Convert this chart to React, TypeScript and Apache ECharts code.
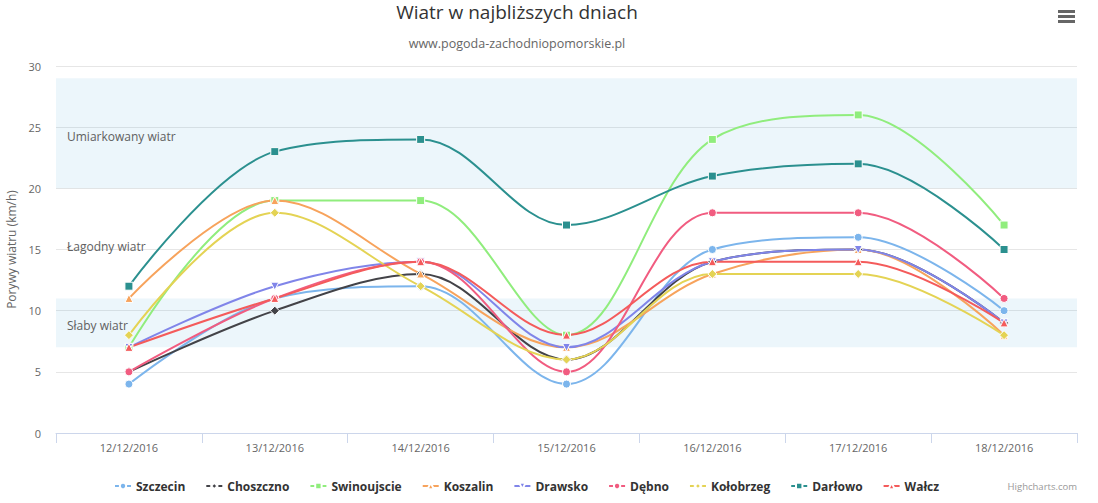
import React, { useEffect, useRef } from "react";
import * as echarts from "echarts";

const categories = ["12/12/2016", "13/12/2016", "14/12/2016", "15/12/2016", "16/12/2016", "17/12/2016", "18/12/2016"];

const szczecin = [4, 11, 12, 4, 15, 16, 10];
const choszczno = [5, 10, 13, 6, 14, 15, 9];
const swinoujscie = [7, 19, 19, 8, 24, 26, 17];
const koszalin = [11, 19, 13, 7, 13, 15, 8];
const drawsko = [7, 12, 14, 7, 14, 15, 9];
const debno = [5, 11, 14, 5, 18, 18, 11];
const kolobrzeg = [8, 18, 12, 6, 13, 13, 8];
const darlowo = [12, 23, 24, 17, 21, 22, 15];
const walcz = [7, 11, 14, 8, 14, 14, 9];

const bands = [
  { from: 7, to: 11, label: "Słaby wiatr", filled: true },
  { from: 11, to: 20, label: "Łagodny wiatr", filled: false },
  { from: 20, to: 29, label: "Umiarkowany wiatr", filled: true },
];

const titleText = "Wiatr w najbliższych dniach";
const subtitleText = "www.pogoda-zachodniopomorskie.pl";
const creditsText = "Highcharts.com";

const seriesDefs = [
  { name: "Szczecin", data: szczecin, color: "#7cb5ec", symbol: "circle", rotate: 0 },
  { name: "Choszczno", data: choszczno, color: "#434348", symbol: "diamond", rotate: 0 },
  { name: "Swinoujscie", data: swinoujscie, color: "#90ed7d", symbol: "rect", rotate: 0 },
  { name: "Koszalin", data: koszalin, color: "#f7a35c", symbol: "triangle", rotate: 0 },
  { name: "Drawsko", data: drawsko, color: "#8085e9", symbol: "triangle", rotate: 180 },
  { name: "Dębno", data: debno, color: "#f15c80", symbol: "circle", rotate: 0 },
  { name: "Kołobrzeg", data: kolobrzeg, color: "#e4d354", symbol: "diamond", rotate: 0 },
  { name: "Darłowo", data: darlowo, color: "#2b908f", symbol: "rect", rotate: 0 },
  { name: "Wałcz", data: walcz, color: "#f45b5b", symbol: "triangle", rotate: 0 },
];

const FONT = "'Open Sans', 'DejaVu Sans', sans-serif";

export default function App() {
  const ref = useRef<HTMLDivElement>(null);
  useEffect(() => {
    const chart = echarts.init(ref.current!, null, { renderer: "svg" });
    const series: any[] = seriesDefs.map((s, i) => ({
      type: "line",
      name: s.name,
      data: s.data,
      smooth: 0.35,
      symbol: s.symbol,
      symbolRotate: s.rotate,
      symbolSize: s.symbol === "diamond" ? 9 : 8,
      showAllSymbol: true,
      lineStyle: { width: 2, color: s.color },
      itemStyle: { color: s.color, borderColor: "#ffffff", borderWidth: 1 },
      z: 3,
      ...(i === 0
        ? {
            markArea: {
              silent: true,
              z: 0,
              data: bands.map((b) => [
                {
                  yAxis: b.from,
                  name: b.label,
                  itemStyle: { color: b.filled ? "rgba(68,170,213,0.1)" : "rgba(0,0,0,0)" },
                },
                { yAxis: b.to },
              ]),
              label: {
                show: true,
                position: "insideLeft",
                distance: 11,
                color: "#606060",
                fontSize: 12,
                fontFamily: FONT,
                offset: [0, 3],
              },
            },
          }
        : {}),
    }));

    chart.setOption({
      animation: false,
      backgroundColor: "#ffffff",
      legend: {
        bottom: 6,
        left: 109,
        itemWidth: 16,
        itemHeight: 8,
        itemGap: 20,
        textStyle: { fontSize: 12, fontWeight: "bold", color: "#333333", fontFamily: FONT },
        data: seriesDefs.map((s) => s.name),
      },
      grid: { left: 56, right: 21, top: 66, bottom: 70, outerBoundsMode: "none", containLabel: false },
      xAxis: {
        type: "category",
        data: categories,
        boundaryGap: true,
        axisLine: { lineStyle: { color: "#ccd6eb", width: 1 } },
        axisTick: { show: true, length: 10, lineStyle: { color: "#ccd6eb" } },
        axisLabel: { color: "#666666", fontSize: 11, fontFamily: FONT, margin: 9 },
      },
      yAxis: {
        type: "value",
        min: 0,
        max: 30,
        interval: 5,
        name: "Porywy wiatru (km/h)",
        nameLocation: "middle",
        nameGap: 38,
        nameTextStyle: { color: "#666666", fontSize: 12, fontFamily: FONT },
        axisLine: { show: false },
        axisTick: { show: false },
        axisLabel: { color: "#666666", fontSize: 11, fontFamily: FONT, margin: 15 },
        splitLine: { lineStyle: { color: "#e6e6e6", width: 1 } },
      },
      graphic: [
        {
          type: "text",
          x: 517,
          y: 12,
          style: {
            text: titleText,
            fill: "#333333",
            font: `19px ${FONT}`,
            textAlign: "center",
            textVerticalAlign: "middle",
          },
        },
        {
          type: "text",
          x: 517,
          y: 43,
          style: {
            text: subtitleText,
            fill: "#666666",
            font: `12.5px ${FONT}`,
            textAlign: "center",
            textVerticalAlign: "middle",
          },
        },
        {
          type: "text",
          x: 1077,
          y: 486,
          style: {
            text: creditsText,
            fill: "#999999",
            font: `9.5px ${FONT}`,
            textAlign: "right",
            textVerticalAlign: "middle",
          },
        },
        { type: "rect", shape: { x: 1058, y: 10, width: 17, height: 3 }, style: { fill: "#666666" } },
        { type: "rect", shape: { x: 1058, y: 15, width: 17, height: 3 }, style: { fill: "#666666" } },
        { type: "rect", shape: { x: 1058, y: 20, width: 17, height: 3 }, style: { fill: "#666666" } },
      ],
      series,
    });
    return () => chart.dispose();
  }, []);
  return <div ref={ref} style={{ width: 1098, height: 503, position: "absolute", left: 0, top: 0 }} />;
}
